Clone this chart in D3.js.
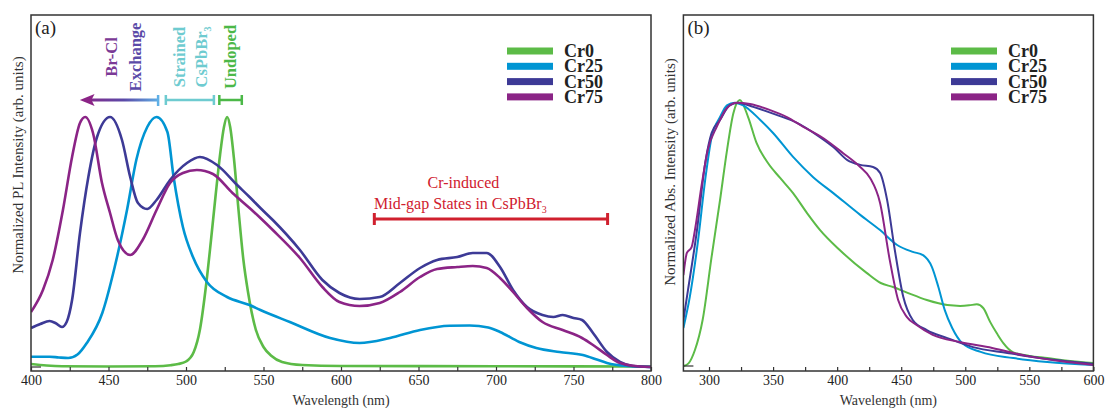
<!DOCTYPE html>
<html>
<head>
<meta charset="utf-8">
<script src="https://cdn.jsdelivr.net/npm/d3@7"></script>
<style>
  body { margin: 0; background: #fff; }
  svg { font-family: "Liberation Serif", "Times New Roman", serif; }
</style>
</head>
<body>
<script>
// ---- data ----
var seriesNames = ["Cr0", "Cr25", "Cr50", "Cr75"];
var seriesColors = ["#5cbb47", "#0095d3", "#3d3a96", "#8b2486"];

// (a) PL spectra: [wavelength nm, normalized intensity]
var plCr0 = [[400,0.012],[410,0.006],[420,0.003],[450,0.002],[480,0.003],[490,0.007],[495,0.012],[500,0.022],[505,0.06],[509,0.15],[513,0.33],[516,0.5],[519,0.68],[522,0.85],[524.5,0.96],[526.5,1.0],[528.5,0.96],[531,0.83],[534,0.62],[537,0.43],[540,0.3],[545,0.15],[550,0.08],[555,0.045],[562,0.02],[575,0.008],[600,0.004],[700,0.003],[800,0.002]];
var plCr25 = [[400,0.041],[412,0.041],[418,0.038],[424,0.036],[430,0.05],[436,0.096],[446,0.216],[454,0.4],[462,0.63],[468,0.83],[475,0.96],[481,1.0],[488,0.94],[492,0.76],[498,0.56],[504.5,0.44],[513.5,0.34],[526.5,0.28],[541,0.248],[548,0.228],[567,0.18],[593,0.116],[612,0.096],[631.6,0.116],[651,0.148],[670,0.165],[683,0.166],[695,0.158],[702.6,0.14],[715,0.1],[726,0.076],[741,0.06],[756,0.048],[765,0.03],[771.6,0.016],[784.5,0.004],[800,0]];
var plCr50 = [[400,0.156],[406,0.172],[412,0.184],[416,0.175],[420,0.16],[423,0.18],[426.5,0.268],[431.6,0.536],[437,0.76],[442.6,0.92],[451,1.0],[458.7,0.908],[464,0.76],[469,0.656],[475,0.632],[481,0.668],[489.7,0.748],[500.6,0.816],[509,0.84],[520,0.808],[533,0.728],[541,0.68],[548,0.636],[556,0.588],[573.5,0.468],[588,0.348],[599,0.296],[612,0.272],[625,0.28],[638,0.336],[651,0.396],[662,0.428],[675,0.44],[685,0.456],[694,0.456],[702.6,0.4],[711,0.308],[720,0.24],[730,0.208],[737,0.2],[743,0.208],[750,0.196],[755.5,0.188],[762.6,0.136],[771.6,0.06],[780,0.02],[788,0.004],[800,0]];
var plCr75 = [[400,0.22],[407.7,0.308],[414,0.428],[420.6,0.628],[426.5,0.84],[431.6,0.976],[435,1.0],[440,0.936],[445.8,0.736],[451,0.616],[456,0.508],[464,0.448],[472,0.508],[481,0.628],[489.7,0.736],[498,0.776],[507,0.788],[517.4,0.772],[530,0.696],[541,0.636],[548,0.596],[556,0.548],[573.5,0.436],[588,0.32],[599,0.26],[612,0.244],[625,0.256],[638,0.3],[651,0.36],[662,0.392],[675,0.4],[685,0.404],[694,0.396],[702.6,0.356],[711,0.3],[720,0.236],[730,0.18],[743,0.148],[755.5,0.116],[762.6,0.088],[771.6,0.048],[780,0.016],[793,0.002],[800,0]];

// (b) absorption spectra
var absCr0 = [[280,0],[284,0.01],[289,0.06],[295,0.173],[302,0.41],[308.6,0.624],[314,0.81],[319,0.95],[324,1.0],[330.5,0.936],[337,0.84],[346,0.763],[355.5,0.707],[365.6,0.65],[376.5,0.575],[386.7,0.511],[402,0.436],[423,0.35],[434,0.312],[443.6,0.297],[454.5,0.276],[470,0.248],[486,0.229],[496,0.226],[503,0.228],[509,0.232],[514,0.218],[519.5,0.165],[525,0.12],[529.7,0.086],[537.5,0.051],[550,0.038],[564,0.03],[580,0.02],[600,0.011]];
var absCr25 = [[280,0.143],[285,0.26],[291.5,0.474],[297,0.7],[302,0.86],[308.6,0.936],[314,0.98],[320,0.99],[326.6,0.98],[340,0.925],[350,0.876],[365.6,0.786],[381.3,0.71],[397,0.65],[418,0.568],[433.5,0.511],[446.8,0.455],[459,0.429],[467,0.417],[474,0.372],[479,0.297],[484,0.21],[489.8,0.143],[497.6,0.086],[512,0.053],[537.5,0.03],[564,0.015],[600,0.004]];
var absCr50 = [[280,0.173],[283.6,0.286],[290.6,0.511],[297,0.763],[302,0.876],[308.6,0.925],[316,0.98],[322.6,0.99],[334.5,0.974],[352.7,0.944],[368.6,0.914],[384.3,0.868],[397,0.823],[408,0.774],[418,0.756],[428,0.748],[433.5,0.726],[439,0.624],[445,0.436],[451.6,0.26],[459,0.173],[470,0.135],[486,0.105],[506,0.071],[532.8,0.049],[564,0.026],[600,0.008]];
var absCr75 = [[280,0.342],[282.7,0.425],[286.4,0.447],[289,0.511],[294.5,0.688],[299,0.812],[306,0.899],[314,0.97],[321.7,0.99],[332,0.985],[347.7,0.962],[360.8,0.936],[373.3,0.9],[389,0.857],[404.7,0.8],[418,0.748],[425.7,0.707],[433.5,0.613],[441,0.4],[447.6,0.248],[454.5,0.184],[462,0.154],[474.6,0.117],[495.6,0.09],[521,0.068],[547.6,0.038],[579.6,0.015],[600,0.004]];

var plTicks = d3.range(400, 801, 25);
var absTicks = d3.range(300, 601, 25);

// ---- layout ----
var width = 1105, height = 408;
var frameColor = "#333";

var svg = d3.select("body").append("svg")
  .attr("width", width)
  .attr("height", height);

var defs = svg.append("defs");

function drawPanel(opt) {
  var x = d3.scaleLinear().domain(opt.xDomain).range([opt.left, opt.right]);
  var y = d3.scaleLinear().domain([0, 1]).range([opt.y0, opt.y1]);

  defs.append("clipPath").attr("id", opt.id + "-clip")
    .append("rect")
    .attr("x", opt.left).attr("y", opt.top)
    .attr("width", opt.right - opt.left).attr("height", opt.bottom - opt.top);

  var g = svg.append("g").attr("class", opt.id);

  var line = d3.line()
    .x(function (d) { return x(d[0]); })
    .y(function (d) { return y(d[1]); })
    .curve(d3.curveMonotoneX);

  g.append("g").attr("clip-path", "url(#" + opt.id + "-clip)")
    .selectAll("path")
    .data(opt.series)
    .enter()
    .append("path")
    .attr("d", function (d) { return line(d); })
    .attr("fill", "none")
    .attr("stroke", function (d, i) { return seriesColors[i]; })
    .attr("stroke-width", opt.lineWidth)
    .attr("stroke-linejoin", "round");

  // x axis with inward ticks
  var xAxis = d3.axisBottom(x)
    .tickValues(opt.ticks)
    .tickSizeInner(-4)
    .tickSizeOuter(0)
    .tickPadding(4)
    .tickFormat(function (d) { return d % 50 === 0 ? d : ""; });

  var ax = g.append("g")
    .attr("transform", "translate(0," + opt.bottom + ")")
    .call(xAxis);
  ax.select(".domain").remove();
  ax.selectAll("line").attr("stroke", frameColor).attr("stroke-width", 1.2);
  ax.selectAll("text")
    .attr("fill", "#222")
    .style("font-size", "14px")
    .style("font-family", "'Liberation Serif', serif");

  // small zero mark on the left
  g.append("line")
    .attr("x1", opt.left).attr("x2", opt.left + 10)
    .attr("y1", y(0)).attr("y2", y(0))
    .attr("stroke", frameColor).attr("stroke-width", 1.2);

  // frame
  g.append("rect")
    .attr("x", opt.left).attr("y", opt.top)
    .attr("width", opt.right - opt.left).attr("height", opt.bottom - opt.top)
    .attr("fill", "none")
    .attr("stroke", frameColor)
    .attr("stroke-width", 1.5);

  // axis titles
  g.append("text")
    .attr("x", (opt.left + opt.right) / 2)
    .attr("y", 405)
    .attr("text-anchor", "middle")
    .attr("fill", "#333")
    .style("font-size", "14px")
    .text("Wavelength (nm)");

  g.append("text")
    .attr("transform", "translate(" + opt.yLabelX + "," + opt.yLabelY + ") rotate(-90)")
    .attr("text-anchor", "middle")
    .attr("fill", "#333")
    .style("font-size", "15px")
    .text(opt.yLabel);

  // panel letter
  g.append("text")
    .attr("x", opt.left + 4).attr("y", opt.top + 19)
    .attr("fill", "#222")
    .style("font-size", "19px")
    .text(opt.letter);

  // legend
  var leg = g.append("g")
    .selectAll("g")
    .data(seriesNames)
    .enter()
    .append("g")
    .attr("transform", function (d, i) {
      return "translate(" + opt.legendX + "," + (51 + i * 15.3) + ")";
    });
  leg.append("rect")
    .attr("x", 0).attr("y", -3.5)
    .attr("width", 46).attr("height", 7)
    .attr("fill", function (d, i) { return seriesColors[i]; });
  leg.append("text")
    .attr("x", 57).attr("y", 6)
    .attr("fill", "#222")
    .style("font-size", "18px")
    .style("font-weight", "bold")
    .text(function (d) { return d; });

  return { x: x, y: y, g: g };
}

var pa = drawPanel({
  id: "pa", letter: "(a)",
  left: 31, right: 651, top: 15, bottom: 371,
  y0: 367, y1: 117,
  xDomain: [400, 800], ticks: plTicks,
  series: [plCr0, plCr25, plCr50, plCr75],
  lineWidth: 2.6,
  yLabel: "Normalized PL Intensity (arb. units)", yLabelX: 23, yLabelY: 165,
  legendX: 507
});

var pb = drawPanel({
  id: "pb", letter: "(b)",
  left: 683.4, right: 1093.4, top: 15, bottom: 371,
  y0: 366, y1: 100,
  xDomain: [280, 600], ticks: absTicks,
  series: [absCr0, absCr25, absCr50, absCr75],
  lineWidth: 2,
  yLabel: "Normalized Abs. Intensity (arb. units)", yLabelX: 675, yLabelY: 172,
  legendX: 951
});

// ---- annotations in panel (a) ----
var xa = pa.x, ann = pa.g.append("g");

var grad = defs.append("linearGradient")
  .attr("id", "arrowGrad")
  .attr("gradientUnits", "userSpaceOnUse")
  .attr("x1", xa(432)).attr("x2", xa(483))
  .attr("y1", 0).attr("y2", 0);
grad.append("stop").attr("offset", "0%").attr("stop-color", "#8b2486");
grad.append("stop").attr("offset", "55%").attr("stop-color", "#5b4aa8");
grad.append("stop").attr("offset", "100%").attr("stop-color", "#5fb0e6");

var arrowY = 100;
ann.append("line")
  .attr("x1", xa(438)).attr("x2", xa(482))
  .attr("y1", arrowY).attr("y2", arrowY)
  .attr("stroke", "url(#arrowGrad)").attr("stroke-width", 3);
ann.append("path")
  .attr("d", "M" + xa(431.5) + "," + arrowY + " L" + xa(441) + "," + (arrowY - 6) +
    " L" + xa(439) + "," + arrowY + " L" + xa(441) + "," + (arrowY + 6) + " Z")
  .attr("fill", "#8b2486");

function bracket(x1, x2, yy, h, color, w) {
  ann.append("path")
    .attr("d", "M" + x1 + "," + (yy - h) + "V" + (yy + h) + "M" + x1 + "," + yy + "H" + x2 +
      "M" + x2 + "," + (yy - h) + "V" + (yy + h))
    .attr("fill", "none").attr("stroke", color).attr("stroke-width", w);
}
ann.append("line")
  .attr("x1", xa(482)).attr("x2", xa(482))
  .attr("y1", arrowY - 5).attr("y2", arrowY + 6)
  .attr("stroke", "#5fb0e6").attr("stroke-width", 2.5);
bracket(xa(487), xa(518), arrowY, 5, "#6ecbd0", 2.5);
bracket(xa(521.5), xa(536), arrowY, 5, "#4cb848", 2.5);

function vtext(xb, txt, color, sub) {
  var t = ann.append("text")
    .attr("transform", "translate(" + xb + ",57) rotate(-90)")
    .attr("text-anchor", "middle")
    .attr("fill", color)
    .style("font-size", "16.5px")
    .style("font-weight", "bold")
    .text(txt);
  if (sub) {
    t.append("tspan").attr("dy", 4).style("font-size", "10px").text(sub);
  }
}
vtext(117, "Br-Cl", "#7b3a96");
vtext(141, "Exchange", "#5b4aa8");
vtext(185, "Strained", "#6ecbd0");
vtext(207, "CsPbBr", "#6ecbd0", "3");
vtext(236, "Undoped", "#4cb848");

var red = "#d0202e";
ann.append("text")
  .attr("x", xa(679)).attr("y", 188)
  .attr("text-anchor", "middle")
  .attr("fill", red)
  .style("font-size", "16px")
  .text("Cr-induced");
var mid = ann.append("text")
  .attr("x", xa(677)).attr("y", 209)
  .attr("text-anchor", "middle")
  .attr("fill", red)
  .style("font-size", "16px")
  .text("Mid-gap States in CsPbBr");
mid.append("tspan").attr("dy", 4).style("font-size", "10px").text("3");
bracket(xa(621.5), xa(772), 219, 6, red, 3);
</script>
</body>
</html>
